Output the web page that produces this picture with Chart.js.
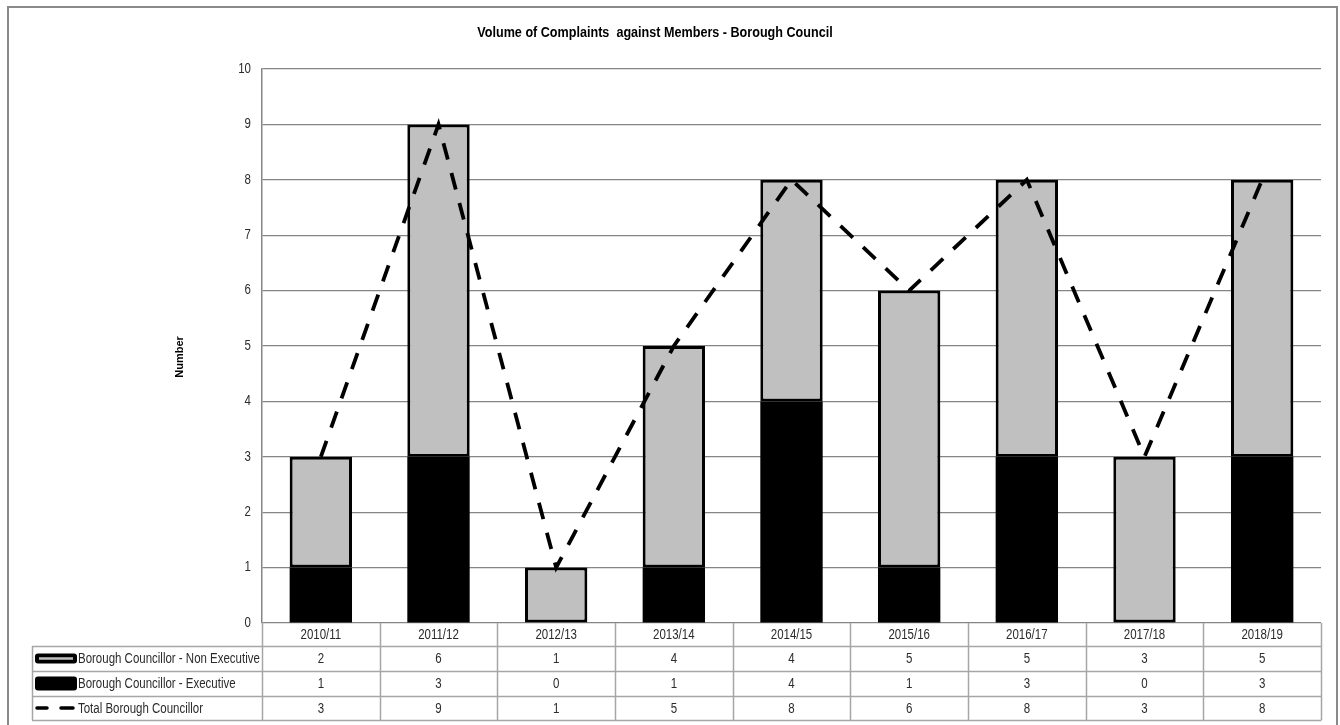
<!DOCTYPE html>
<html>
<head>
<meta charset="utf-8">
<script src="https://cdn.jsdelivr.net/npm/chart.js@4.4.1/dist/chart.umd.min.js"></script>
<style>
  html, body { margin: 0; padding: 0; background: #fff; }
  #wrap { width: 1340px; height: 725px; position: relative; }
</style>
</head>
<body>
<div id="wrap"><canvas id="c" width="1340" height="725"></canvas></div>
<script>
const titleText = 'Volume of Complaints  against Members - Borough Council';
const yAxisTitle = 'Number';
const categories = ['2010/11', '2011/12', '2012/13', '2013/14', '2014/15', '2015/16', '2016/17', '2017/18', '2018/19'];
const nonExecutive = [2, 6, 1, 4, 4, 5, 5, 3, 5];
const executive = [1, 3, 0, 1, 4, 1, 3, 0, 3];
const totalCouncillor = [3, 9, 1, 5, 8, 6, 8, 3, 8];
const seriesNames = ['Borough Councillor - Non Executive', 'Borough Councillor - Executive', 'Total Borough Councillor'];
const yTicks = [0, 1, 2, 3, 4, 5, 6, 7, 8, 9, 10];

const FONT = '"Liberation Sans", Arial, sans-serif';
const NARROW_X = 0.82;
const GRID = '#858585';
const TABLE_LINE = '#a6a6a6';
const TEXT = '#2b2b2b';
const GREY = '#c0c0c0';

Chart.defaults.font.family = FONT;
Chart.defaults.font.size = 14;
Chart.defaults.color = TEXT;

const rowBounds = [623, 646, 671, 696, 720];

function narrowText(ctx, text, x, y, align, font, sx) {
  ctx.save();
  ctx.font = font;
  ctx.textAlign = align;
  ctx.textBaseline = 'middle';
  ctx.translate(x, y);
  ctx.scale(sx || NARROW_X, 1);
  ctx.fillText(text, 0, 0);
  ctx.restore();
}

const decorPlugin = {
  id: 'decor',
  beforeDraw(chart) {
    const ctx = chart.ctx;
    ctx.save();
    ctx.fillStyle = '#fff';
    ctx.fillRect(0, 0, chart.width, chart.height);
    ctx.strokeStyle = '#8a8a8a';
    ctx.lineWidth = 2;
    ctx.strokeRect(8, 7, 1329, 740);
    ctx.restore();
  },
  afterDraw(chart) {
    const ctx = chart.ctx;
    const area = chart.chartArea;
    const xs = chart.scales.x;
    const ys = chart.scales.y;
    const n = categories.length;
    const colW = (area.right - area.left) / n;
    ctx.save();
    // title
    ctx.fillStyle = '#000';
    narrowText(ctx, titleText, 655, 33, 'center', 'bold 15px ' + FONT, 0.84);
    // y-axis title
    ctx.save();
    ctx.translate(180, 357);
    ctx.rotate(-Math.PI / 2);
    ctx.font = 'bold 11px ' + FONT;
    ctx.textAlign = 'center';
    ctx.textBaseline = 'middle';
    ctx.fillText(yAxisTitle, 0, 0);
    ctx.restore();

    // y tick labels
    ctx.fillStyle = TEXT;
    yTicks.forEach(v => {
      narrowText(ctx, String(v), area.left - 11, ys.getPixelForValue(v), 'right', '14px ' + FONT);
    });

    // table lines
    ctx.strokeStyle = TABLE_LINE;
    ctx.lineWidth = 1.5;
    const tableLeft = 32;
    ctx.beginPath();
    for (let i = 0; i <= n; i++) {
      const x = Math.round(area.left + i * colW) + 0.5;
      ctx.moveTo(x, rowBounds[0]);
      ctx.lineTo(x, rowBounds[4]);
    }
    for (let r = 1; r < rowBounds.length; r++) {
      ctx.moveTo(tableLeft, rowBounds[r] + 0.5);
      ctx.lineTo(area.right + 0.5, rowBounds[r] + 0.5);
    }
    ctx.moveTo(tableLeft + 0.5, rowBounds[1]);
    ctx.lineTo(tableLeft + 0.5, rowBounds[4]);
    ctx.stroke();

    // header labels and values
    ctx.fillStyle = TEXT;
    const rows = [nonExecutive, executive, totalCouncillor];
    for (let i = 0; i < n; i++) {
      const cx = xs.getPixelForValue(i);
      narrowText(ctx, categories[i], cx, (rowBounds[0] + rowBounds[1]) / 2 + 1, 'center', '14px ' + FONT);
      for (let r = 0; r < rows.length; r++) {
        narrowText(ctx, String(rows[r][i]), cx, (rowBounds[r + 1] + rowBounds[r + 2]) / 2 + 1, 'center', '14px ' + FONT);
      }
    }
    // legend keys + names
    for (let r = 0; r < 3; r++) {
      const cy = (rowBounds[r + 1] + rowBounds[r + 2]) / 2;
      if (r === 0) {
        ctx.fillStyle = '#000';
        ctx.beginPath();
        ctx.roundRect(35, cy - 5, 42, 10, 3);
        ctx.fill();
        ctx.strokeStyle = GREY;
        ctx.lineWidth = 2.5;
        ctx.beginPath();
        ctx.moveTo(39, cy);
        ctx.lineTo(73, cy);
        ctx.stroke();
      } else if (r === 1) {
        ctx.fillStyle = '#000';
        ctx.beginPath();
        ctx.roundRect(35, cy - 7, 42, 14, 3);
        ctx.fill();
      } else {
        ctx.strokeStyle = '#000';
        ctx.lineWidth = 3.5;
        ctx.lineCap = 'round';
        ctx.beginPath();
        ctx.moveTo(37, cy); ctx.lineTo(47, cy);
        ctx.moveTo(61, cy); ctx.lineTo(73, cy);
        ctx.stroke();
        ctx.lineCap = 'butt';
      }
      ctx.fillStyle = TEXT;
      narrowText(ctx, seriesNames[r], 78, cy + 1, 'left', '14px ' + FONT);
    }
    ctx.restore();
  }
};

new Chart(document.getElementById('c'), {
  type: 'bar',
  data: {
    labels: categories,
    datasets: [
      {
        label: seriesNames[1],
        data: executive,
        backgroundColor: '#000',
        borderColor: '#000',
        borderWidth: 0,
        barPercentage: 0.53,
        categoryPercentage: 1,
        stack: 'bars',
        order: 1
      },
      {
        label: seriesNames[0],
        data: nonExecutive,
        backgroundColor: GREY,
        borderColor: '#000',
        borderWidth: 3,
        borderSkipped: false,
        barPercentage: 0.53,
        categoryPercentage: 1,
        stack: 'bars',
        order: 1
      },
      {
        type: 'line',
        label: seriesNames[2],
        data: totalCouncillor,
        borderColor: '#000',
        backgroundColor: '#000',
        borderWidth: 3.8,
        borderDash: [17, 14],
        pointRadius: 0,
        tension: 0,
        fill: false,
        stack: 'total',
        order: 0
      }
    ]
  },
  options: {
    responsive: false,
    animation: false,
    events: [],
    layout: { padding: { left: 0, right: 19, top: 69, bottom: 102 } },
    plugins: {
      legend: { display: false },
      title: { display: false },
      tooltip: { enabled: false }
    },
    scales: {
      x: {
        display: false,
        stacked: true,
        offset: true
      },
      y: {
        stacked: true,
        min: 0,
        max: 10,
        afterFit(scale) { scale.width = 262; },
        afterBuildTicks(scale) { scale.ticks = yTicks.map(v => ({ value: v })); },
        ticks: { display: false },
        grid: { color: GRID, lineWidth: 1.2, drawTicks: false },
        border: { display: true, color: GRID, width: 1.5 }
      }
    }
  },
  plugins: [decorPlugin]
});
</script>
</body>
</html>
